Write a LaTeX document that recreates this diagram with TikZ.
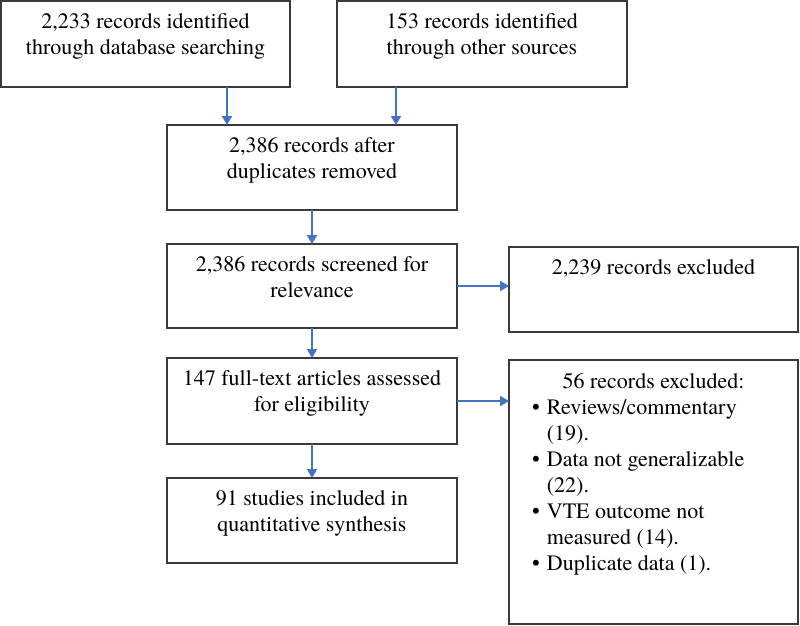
\documentclass[tikz,border=0pt]{standalone}
\usepackage{fontspec}
\setmainfont{texgyretermes}[Extension=.otf, UprightFont=*-regular, BoldFont=*-bold, ItalicFont=*-italic, BoldItalicFont=*-bolditalic]
\usetikzlibrary{arrows.meta}
\definecolor{arrowblue}{HTML}{4472C4}
\definecolor{boxline}{HTML}{3A3A3A}
\newcommand\boxlines[1]{\begin{tabular}[t]{@{}c@{}}#1\end{tabular}}
\begin{document}
\begin{tikzpicture}[x=1pt,y=-1pt,
  box/.style={draw=boxline, line width=1.3pt, inner sep=0pt, outer sep=0pt},
  txt/.style={inner sep=0pt, anchor=base, font=\fontsize{22}{26}\selectfont},
  arr/.style={draw=arrowblue, line width=1.8pt, -{Triangle[length=9pt,width=10pt]}}]
\useasboundingbox (0,0) rectangle (800,625);
% boxes
\node[box, minimum width=289pt, minimum height=86pt] (b1) at (145.5,44) {};
\node[box, minimum width=290pt, minimum height=86pt] (b2) at (482,44) {};
\node[box, minimum width=290pt, minimum height=85pt] (b3) at (312,167.5) {};
\node[box, minimum width=290pt, minimum height=84pt] (b4) at (312,286) {};
\node[box, minimum width=290pt, minimum height=86pt] (b6) at (312,401) {};
\node[box, minimum width=290pt, minimum height=85pt] (b7) at (312,520.5) {};
\node[box, minimum width=289pt, minimum height=85pt] (b5) at (653.5,289.5) {};
\node[box, minimum width=289pt, minimum height=264pt] (b8) at (653.5,492) {};
% texts
\node[txt] (t1) at ([yshift=-27pt]b1.north) {\boxlines{2,233 records identified\\through database searching}};
\node[txt] (t2) at ([yshift=-27pt]b2.north) {\boxlines{153 records identified\\through other sources}};
\node[txt] (t3) at ([yshift=-27pt]b3.north) {\boxlines{2,386 records after\\duplicates removed}};
\node[txt] (t4) at ([yshift=-27pt]b4.north) {\boxlines{2,386 records screened for\\relevance}};
\node[txt] (t6) at ([yshift=-27pt]b6.north) {\boxlines{147 full-text articles assessed\\for eligibility}};
\node[txt] (t7) at ([yshift=-27pt]b7.north) {\boxlines{91 studies included in\\quantitative synthesis}};
\node[txt] (t5) at ([yshift=-27pt]b5.north) {2,239 records excluded};
\node[txt] (t8) at ([yshift=-28pt]b8.north) {56 records excluded:};
\node[txt, anchor=base west] (l8) at (532,414)
  {\begin{tabular}[t]{@{}l@{\hspace{7pt}}l@{}}
   \textbullet & Reviews/commentary\\
               & (19).\\
   \textbullet & Data not generalizable\\
               & (22).\\
   \textbullet & VTE outcome not\\
               & measured (14).\\
   \textbullet & Duplicate data (1).
   \end{tabular}};
% connectors
\draw[arr] (b1.south -| 227,0) -- (b3.north -| 227,0);
\draw[arr] (b2.south -| 396,0) -- (b3.north -| 396,0);
\draw[arr] (b3.south) -- (b4.north);
\draw[arr] (b4.south) -- (b6.north);
\draw[arr] (b6.south) -- (b7.north);
\draw[arr] (b4.east) -- (b4.east -| b5.west);
\draw[arr] (b6.east) -- (b6.east -| b8.west);
\end{tikzpicture}
\end{document}
